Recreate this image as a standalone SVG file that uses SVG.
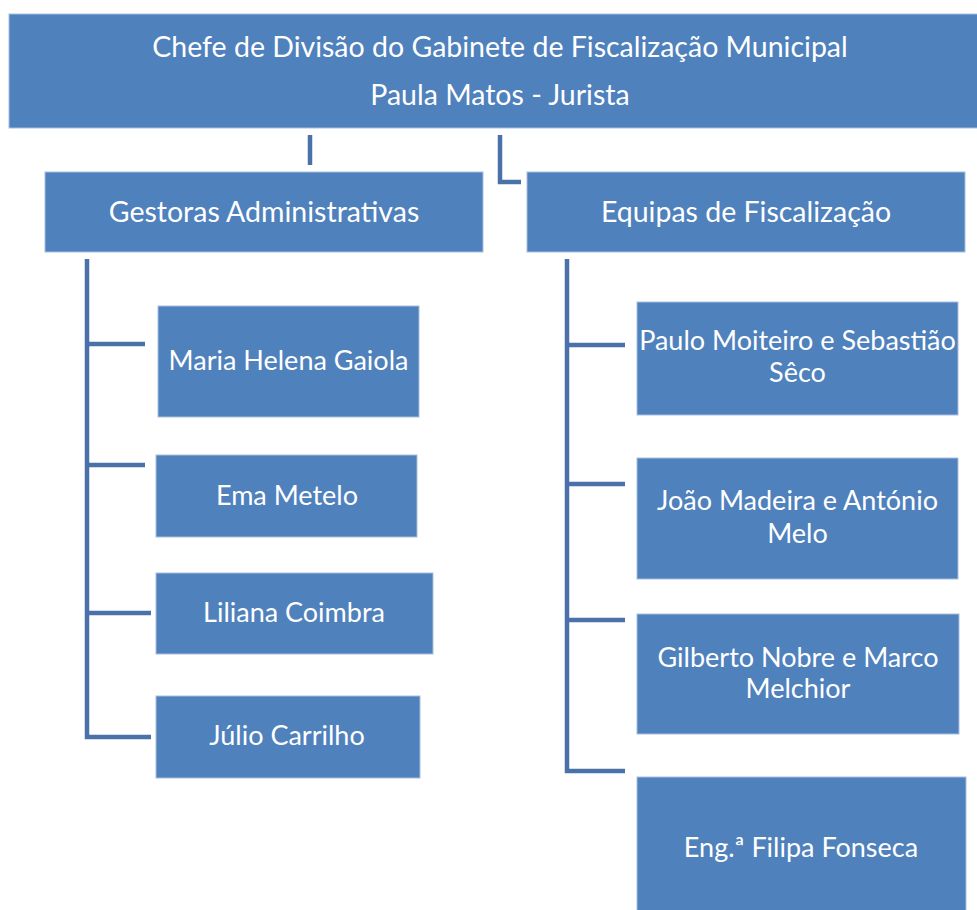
<svg xmlns="http://www.w3.org/2000/svg" width="977" height="910" viewBox="0 0 977 910">
<style>
.box{fill:#4F81BD;stroke:#a9bfdd;stroke-width:1}
.t{font-family:Lato,"Open Sans","DejaVu Sans",sans-serif;fill:#ffffff;text-anchor:middle;font-size:27px}
.big{font-size:28.5px}
.c{fill:none;stroke:#4A72A8;stroke-width:4.5;stroke-linejoin:miter;stroke-linecap:butt}
</style>
<rect width="977" height="910" fill="#ffffff"/>
<g id="connectors">
<path class="c" d="M310,135 V165"/>
<path class="c" d="M500,135 V182 H521"/>
<path class="c" d="M87,259 V737 H151"/>
<path class="c" d="M87,344 H145"/>
<path class="c" d="M87,465 H145"/>
<path class="c" d="M87,613 H151"/>
<path class="c" d="M567,259 V771 H625"/>
<path class="c" d="M567,345 H625"/>
<path class="c" d="M567,484 H625"/>
<path class="c" d="M567,620 H625"/>
</g>
<g id="chefe">
<rect class="box" x="9" y="14" width="970" height="114"/>
<text class="t big" x="500" y="57">Chefe de Divisão do Gabinete de Fiscalização Municipal</text>
<text class="t big" x="500" y="105">Paula Matos - Jurista</text>
</g>
<g id="gestoras">
<rect class="box" x="45" y="172" width="438" height="80"/>
<text class="t big" x="264" y="222">Gestoras Administrativas</text>
</g>
<g id="equipas">
<rect class="box" x="527" y="172" width="438" height="80"/>
<text class="t big" x="746" y="222">Equipas de Fiscalização</text>
</g>
<g id="maria">
<rect class="box" x="158" y="306" width="261" height="111"/>
<text class="t" x="288.5" y="370">Maria Helena Gaiola</text>
</g>
<g id="ema">
<rect class="box" x="156" y="455" width="261" height="82"/>
<text class="t" x="287" y="505">Ema Metelo</text>
</g>
<g id="liliana">
<rect class="box" x="156" y="573" width="277" height="81"/>
<text class="t" x="294" y="622">Liliana Coimbra</text>
</g>
<g id="julio">
<rect class="box" x="156" y="696" width="264" height="82"/>
<text class="t" x="287" y="745">Júlio Carrilho</text>
</g>
<g id="paulo">
<rect class="box" x="637" y="302" width="321" height="113"/>
<text class="t" x="797.5" y="350">Paulo Moiteiro e Sebastião</text>
<text class="t" x="797.5" y="382">Sêco</text>
</g>
<g id="joao">
<rect class="box" x="637" y="458" width="321" height="121"/>
<text class="t" x="797.5" y="510">João Madeira e António</text>
<text class="t" x="797.5" y="543">Melo</text>
</g>
<g id="gilberto">
<rect class="box" x="637" y="614" width="322" height="120"/>
<text class="t" x="798" y="667">Gilberto Nobre e Marco</text>
<text class="t" x="798" y="698">Melchior</text>
</g>
<g id="filipa">
<rect class="box" x="637" y="777" width="329" height="140"/>
<text class="t" x="801" y="857">Eng.ª Filipa Fonseca</text>
</g>
</svg>
